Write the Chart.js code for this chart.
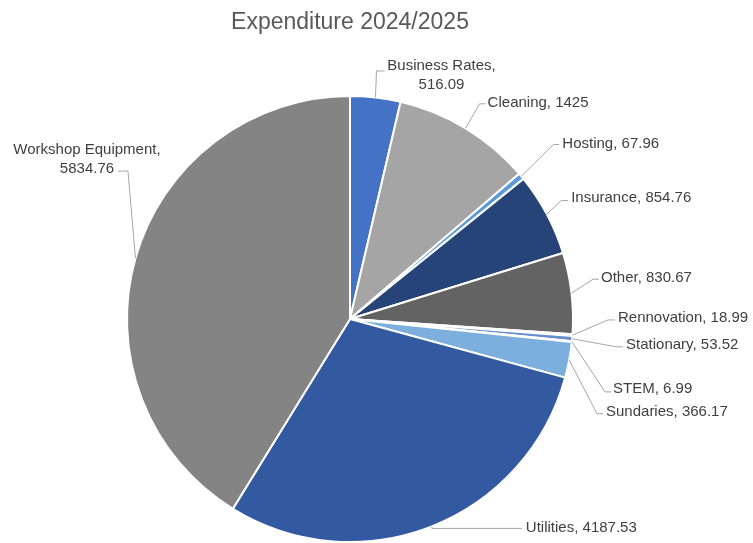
<!DOCTYPE html>
<html>
<head>
<meta charset="utf-8">
<script src="https://cdn.jsdelivr.net/npm/chart.js@4"></script>
<style>
  html, body { margin: 0; padding: 0; background: #fff; }
  #chart { display: block; }
</style>
</head>
<body>
<canvas id="chart" width="753" height="543"></canvas>
<script>
const title = 'Expenditure 2024/2025';
const categories = ['Business Rates', 'Cleaning', 'Hosting', 'Insurance', 'Other', 'Rennovation',
  'Stationary', 'STEM', 'Sundaries', 'Utilities', 'Workshop Equipment'];
const amounts = [516.09, 1425, 67.96, 854.76, 830.67, 18.99, 53.52, 6.99, 366.17, 4187.53, 5834.76];
const amountText = ['516.09', '1425', '67.96', '854.76', '830.67', '18.99', '53.52', '6.99', '366.17', '4187.53', '5834.76'];
const colours = ['#4472C4', '#A5A5A5', '#5B9BD5', '#264478', '#636363', '#255E91',
  '#698ED0', '#B7B7B7', '#7CAFDD', '#335AA1', '#848484'];

// leader line bends: offset of elbow from the slice's edge point, horizontal hook, text offset
const labelLayout = [
  { dx: 1, dy: -26.5, hx: 8, tx: 65, ty: -5, align: 'center', wrap: true },
  { dx: 14, dy: -24.5, hx: 6, tx: 8, ty: -1, align: 'left' },
  { dx: 32, dy: -31.7, hx: 6, tx: 9, ty: -1, align: 'left' },
  { dx: 14.4, dy: -13.5, hx: 7, tx: 10, ty: -3, align: 'left' },
  { dx: 21.5, dy: -14, hx: 6, tx: 8, ty: -1, align: 'left' },
  { dx: 35.6, dy: -15.2, hx: 7, tx: 10, ty: -2, align: 'left' },
  { dx: 43.9, dy: 8.1, hx: 7, tx: 10, ty: -2, align: 'left' },
  { dx: 33.2, dy: 50.2, hx: 6, tx: 8, ty: -3, align: 'left' },
  { dx: 27.8, dy: 53.8, hx: 6, tx: 9, ty: -2, align: 'left' },
  { dx: 0, dy: 2, hx: 90, tx: 94, ty: -1, align: 'left' },
  { dx: -7.5, dy: -87, hx: -10, tx: -41, ty: -21, align: 'center', wrap: true }
];

const labelPlugin = {
  id: 'sliceLabels',
  afterDraw(chart) {
    const ctx = chart.ctx;
    ctx.save();
    // title
    ctx.font = '23px "Liberation Sans", Arial, sans-serif';
    ctx.fillStyle = '#595959';
    ctx.textAlign = 'center';
    ctx.textBaseline = 'middle';
    ctx.fillText(title, 350, 23);

    const arcs = chart.getDatasetMeta(0).data;
    ctx.font = '15px "Liberation Sans", Arial, sans-serif';
    arcs.forEach((arc, i) => {
      const lay = labelLayout[i];
      const mid = (arc.startAngle + arc.endAngle) / 2;
      const px = arc.x + Math.cos(mid) * arc.outerRadius;
      const py = arc.y + Math.sin(mid) * arc.outerRadius;
      const ex = px + lay.dx, ey = py + lay.dy;

      ctx.strokeStyle = '#A6A6A6';
      ctx.lineWidth = 1;
      ctx.beginPath();
      ctx.moveTo(px, py);
      ctx.lineTo(ex, ey);
      ctx.lineTo(ex + lay.hx, ey);
      ctx.stroke();

      ctx.fillStyle = '#404040';
      ctx.textAlign = lay.align;
      ctx.textBaseline = 'middle';
      if (lay.wrap) {
        ctx.fillText(categories[i] + ',', ex + lay.tx, ey + lay.ty);
        ctx.fillText(amountText[i], ex + lay.tx, ey + lay.ty + 19);
      } else {
        ctx.fillText(categories[i] + ', ' + amountText[i], ex + lay.tx, ey + lay.ty);
      }
    });
    ctx.restore();
  }
};

new Chart(document.getElementById('chart'), {
  type: 'pie',
  data: {
    labels: categories,
    datasets: [{
      data: amounts,
      backgroundColor: colours,
      borderColor: '#ffffff',
      borderWidth: 2,
      hoverOffset: 0
    }]
  },
  options: {
    responsive: false,
    animation: false,
    layout: { padding: { top: 95, right: 53, bottom: 0, left: 0 } },
    plugins: {
      legend: { display: false },
      tooltip: { enabled: false },
      title: { display: false }
    }
  },
  plugins: [labelPlugin]
});
</script>
</body>
</html>
